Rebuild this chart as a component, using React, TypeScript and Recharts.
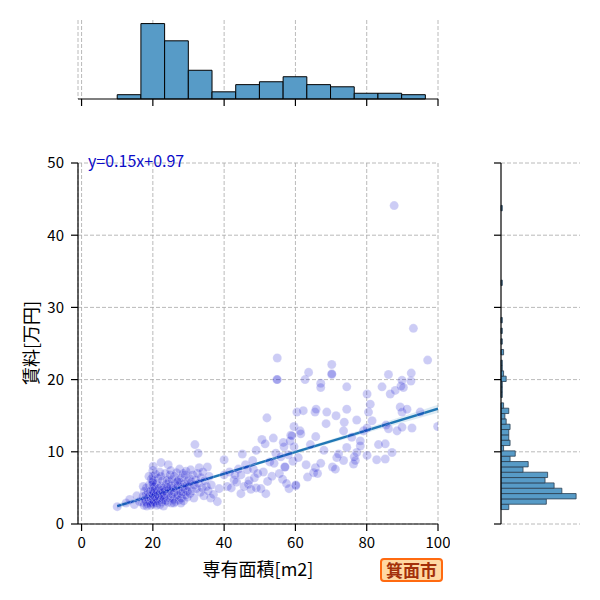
import React from 'react'
import { ComposedChart, Scatter, Line, Area, XAxis, YAxis, CartesianGrid, ReferenceArea } from 'recharts'

const areaTicks = [0, 20, 40, 60, 80, 100]
const rentTicks = [0, 10, 20, 30, 40, 50]

// histogram of 専有面積 (top)
const areaBinStart = 10
const areaBinWidth = 6.65
const areaCounts = [6, 105, 81, 40, 10, 20, 24, 31, 20, 17, 8, 8, 6]

// histogram of 賃料 (right)
const rentBinStart = 2.0
const rentBinWidth = 0.739
const rentCounts = [
  6, 35, 58, 47, 41, 34, 36, 17, 21, 7, 11, 2, 7, 6, 6, 7, 4, 3, 6, 2,
  0, 1, 1, 1, 4, 2, 1, 1, 0, 2, 0, 1, 0, 1, 0, 1, 0, 0, 0, 0,
  0, 0, 1, 0, 0, 0, 0, 0, 0, 0, 0, 0, 0, 0, 0, 0, 1,
]

// regression y = 0.15x + 0.97
const fitSlope = 0.15
const fitIntercept = 0.97
const bandX = [10, 32.5, 55, 77.5, 100]
const bandHalfWidth = [0.35, 0.2, 0.2, 0.3, 0.55]

// [専有面積, 賃料]
const pointsUnder23: [number, number][] = [
  [10.0, 2.4], [12.5, 2.9], [13.5, 3.4], [14.8, 2.7], [15.5, 3.9], [16.2, 3.1],
  [17.0, 3.0], [17.2, 3.8], [17.5, 2.6], [17.6, 4.5], [17.8, 3.4], [18.0, 3.1], [18.0, 4.0],
  [18.2, 5.0], [18.4, 2.8], [18.5, 3.6], [18.6, 4.4], [18.8, 3.2], [19.0, 3.9], [19.0, 5.4],
  [19.2, 2.9], [19.3, 4.6], [19.5, 3.5], [19.6, 6.2], [19.7, 4.2], [19.8, 3.0], [20.0, 3.3],
  [20.0, 3.7], [20.0, 4.1], [20.0, 4.6], [20.0, 5.1], [20.0, 5.6], [20.0, 6.0], [20.0, 6.6],
  [20.0, 7.4], [20.0, 2.8], [20.2, 4.4], [20.3, 3.1], [20.4, 5.2], [20.5, 3.8], [20.6, 4.8],
  [20.8, 2.9], [20.9, 4.1], [21.0, 3.5], [21.0, 5.6], [21.2, 4.6], [21.3, 3.2], [21.5, 4.0],
  [21.5, 6.3], [21.7, 3.6], [21.8, 5.0], [22.0, 2.7], [22.0, 4.3], [22.1, 3.4], [22.3, 5.3],
  [22.3, 8.5], [22.4, 4.7], [22.5, 3.0], [22.6, 3.9], [22.7, 6.0], [22.8, 4.4], [22.9, 3.3],
  [23.0, 5.0], [23.0, 2.5], [23.1, 4.0], [23.2, 3.6], [18.3, 2.5], [19.4, 2.6], [21.1, 2.6],
  [20.7, 6.9], [19.9, 5.8], [21.9, 7.2], [18.9, 6.6], [17.3, 5.2], [22.2, 6.6], [20.1, 8.0],
]

const points23to37: [number, number][] = [
  [23.4, 4.6], [23.5, 7.0], [23.6, 3.2], [23.8, 5.5], [24.0, 4.2], [24.0, 6.1], [24.2, 3.0],
  [24.3, 8.2], [24.5, 4.8], [24.5, 5.9], [24.7, 3.6], [24.8, 6.8], [25.0, 3.8], [25.0, 4.6],
  [25.0, 5.3], [25.0, 7.4], [25.2, 2.9], [25.3, 6.2], [25.5, 4.1], [25.6, 5.0], [25.8, 3.4],
  [26.0, 4.4], [26.0, 6.6], [26.2, 5.6], [26.3, 3.1], [26.5, 4.9], [26.6, 7.1], [26.8, 3.8],
  [27.0, 5.3], [27.0, 4.0], [27.2, 6.1], [27.3, 3.3], [27.5, 4.6], [27.5, 7.6], [27.7, 5.8],
  [27.8, 4.2], [28.0, 3.6], [28.0, 6.4], [28.2, 5.1], [28.4, 4.4], [28.5, 7.0], [28.6, 3.2],
  [28.8, 5.6], [29.0, 4.8], [29.0, 6.8], [29.2, 4.0], [29.3, 7.3], [29.5, 5.3], [29.6, 3.7],
  [29.8, 6.0], [24.1, 5.1], [26.9, 5.9], [25.9, 2.9], [27.9, 2.9], [29.7, 4.5],
  [30.0, 5.2], [30.2, 6.3], [30.4, 4.2], [30.6, 7.5], [30.8, 5.8], [31.0, 4.6], [31.2, 6.8],
  [31.5, 3.6], [31.6, 5.4], [31.8, 11.0], [32.0, 6.1], [32.2, 4.9], [32.5, 7.0], [32.7, 9.8],
  [32.8, 5.6], [33.0, 7.8], [33.3, 4.4], [33.5, 6.4], [33.8, 5.0], [34.0, 7.2], [34.3, 3.9],
  [34.5, 6.0], [35.0, 5.2], [35.3, 7.9], [35.5, 4.6], [35.8, 6.6], [36.2, 3.6], [36.4, 5.4],
]

const points37to63: [number, number][] = [
  [37.0, 4.1], [38.1, 3.1], [38.6, 4.9], [40.0, 8.9], [40.0, 6.8], [40.9, 5.2], [41.5, 7.2],
  [42.8, 6.1], [42.0, 5.0], [43.0, 6.8], [43.5, 5.8], [44.0, 7.6], [44.7, 4.2], [44.7, 6.8],
  [45.1, 9.7], [45.6, 5.2], [46.0, 8.2], [46.5, 7.5], [46.8, 5.5], [47.0, 6.0], [47.5, 4.8],
  [48.0, 8.8], [48.2, 7.6], [48.5, 6.4], [49.0, 10.2], [49.0, 5.0], [49.4, 7.0],
  [50.3, 4.9], [50.6, 11.7], [51.0, 7.2], [51.5, 11.1], [51.7, 4.2], [52.0, 14.7], [52.2, 5.9],
  [52.8, 8.6], [53.4, 6.6], [53.8, 11.9], [54.0, 8.4], [54.5, 9.8], [54.8, 20.0], [54.9, 20.0],
  [54.9, 23.0], [55.5, 7.0], [55.9, 9.3], [56.4, 6.2],
  [56.6, 11.3], [56.8, 10.7], [57.0, 7.9], [57.1, 7.9], [57.5, 5.6], [58.0, 9.6], [58.2, 4.9],
  [58.5, 11.5], [58.7, 12.3], [59.0, 12.2], [59.3, 8.7], [59.6, 13.5], [59.6, 10.7], [60.1, 5.3],
  [60.1, 5.4], [60.4, 15.5], [60.8, 9.2], [61.3, 12.9], [61.5, 12.5], [62.2, 15.7], [62.7, 20.0],
  [63.0, 8.2],
]

const points63to100: [number, number][] = [
  [63.4, 6.5], [63.7, 21.0], [64.2, 11.0], [65.1, 7.1], [65.5, 15.5], [65.6, 7.8], [65.7, 12.1],
  [65.8, 15.9], [66.2, 7.0], [67.1, 19.5], [67.1, 18.9], [67.1, 8.4], [68.0, 10.2], [68.6, 13.9],
  [68.8, 15.5], [70.2, 20.7], [70.2, 20.8], [70.2, 22.1], [70.4, 7.9], [71.2, 7.6], [71.4, 15.0],
  [71.6, 9.2], [72.1, 9.7], [73.5, 12.9], [73.5, 8.8], [73.7, 14.1], [74.4, 19.0], [74.4, 10.6],
  [74.4, 15.9], [75.8, 12.0], [76.3, 8.3], [76.5, 9.3], [76.8, 8.8], [77.2, 14.4], [77.2, 9.9],
  [78.2, 10.8], [78.2, 11.5], [79.1, 12.9], [80.1, 18.0], [80.1, 13.3], [80.1, 9.5], [80.5, 15.5],
  [81.0, 16.6], [81.5, 14.3], [82.8, 8.9], [83.3, 11.0], [84.3, 19.0], [85.2, 11.1], [85.2, 9.0],
  [85.4, 13.7], [86.1, 20.7], [86.1, 13.2], [86.6, 18.0], [87.1, 9.9], [87.7, 44.1], [88.0, 18.5],
  [88.5, 12.9], [89.4, 16.2], [89.6, 19.1], [89.9, 19.9], [89.9, 15.5], [89.9, 13.4], [90.3, 18.9],
  [91.3, 15.9], [92.4, 19.8], [92.5, 20.9], [92.7, 13.3], [93.1, 27.1], [95.0, 15.5], [97.1, 22.7],
  [99.9, 13.5],
]

const FONT = "'Noto Sans CJK JP', 'Noto Sans', sans-serif"
const GRID = '#a8a8a8'
const DASH = '4 2'
const HIST_FILL = '#579bc7'

const scatterData = [...pointsUnder23, ...points23to37, ...points37to63, ...points63to100].map(([x, y]) => ({ x, y }))

const fitData = bandX.map((x, i) => {
  const y = fitIntercept + fitSlope * x
  return { x, y, band: [y - bandHalfWidth[i], y + bandHalfWidth[i]] }
})

const axisLine = { stroke: '#000', strokeWidth: 1.2 }
const tickStyle = { fill: '#000', fontSize: 15, fontFamily: FONT }
const noLabel = () => ''

export default function App() {
  return (
    <div style={{ position: 'absolute', left: 0, top: 0, width: 600, height: 600, background: '#fff', fontFamily: FONT }}>
      {/* top: area histogram */}
      <div style={{ position: 'absolute', left: 0, top: 0 }}>
        <ComposedChart width={450} height={120} margin={{ top: 20, right: 12, bottom: 1, left: 78 }} data={scatterData}>
          <CartesianGrid horizontal={false} stroke={GRID} strokeDasharray={DASH} strokeWidth={0.8} />
          <XAxis type="number" dataKey="x" domain={[-1, 100]} ticks={areaTicks} allowDataOverflow
            height={20} tickSize={7} tickFormatter={noLabel} axisLine={axisLine} tickLine={axisLine} />
          <YAxis type="number" dataKey="y" domain={[0, 110]} allowDataOverflow hide />
          {areaCounts.map((c, i) => (
            <ReferenceArea key={i} x1={areaBinStart + i * areaBinWidth} x2={areaBinStart + (i + 1) * areaBinWidth}
              y1={0} y2={c} fill={HIST_FILL} fillOpacity={1} stroke="#000" strokeWidth={1} ifOverflow="visible" />
          ))}
        </ComposedChart>
      </div>

      {/* main scatter */}
      <div style={{ position: 'absolute', left: 0, top: 0 }}>
        <ComposedChart width={450} height={600} margin={{ top: 163, right: 12, bottom: 46, left: 38 }}>
          <CartesianGrid stroke={GRID} strokeDasharray={DASH} strokeWidth={0.8} />
          <XAxis type="number" dataKey="x" domain={[-1, 100]} ticks={areaTicks} allowDataOverflow
            height={30} tickSize={7} tickMargin={6} axisLine={axisLine} tickLine={axisLine} tick={tickStyle} />
          <YAxis type="number" dataKey="y" domain={[0, 50]} ticks={rentTicks} allowDataOverflow
            width={40} tickSize={7} tickMargin={7} axisLine={axisLine} tickLine={axisLine} tick={tickStyle} />
          <Area data={fitData} dataKey="band" type="linear" stroke="none" fill="#1f77b4" fillOpacity={0.15}
            isAnimationActive={false} />
          <Scatter data={scatterData} fill="#0000cd" fillOpacity={0.2} stroke="#fff" strokeOpacity={0.25}
            strokeWidth={0.8} isAnimationActive={false} />
          <Line data={fitData} dataKey="y" type="linear" stroke="#1f77b4" strokeWidth={2.4} dot={false}
            isAnimationActive={false} />
        </ComposedChart>
      </div>

      {/* right: rent histogram */}
      <div style={{ position: 'absolute', left: 480, top: 0 }}>
        <ComposedChart width={120} height={600} margin={{ top: 163, right: 20, bottom: 76, left: 11 }} data={scatterData}>
          <CartesianGrid vertical={false} stroke={GRID} strokeDasharray={DASH} strokeWidth={0.8} />
          <XAxis type="number" dataKey="x" domain={[0, 61]} allowDataOverflow hide />
          <YAxis type="number" dataKey="y" domain={[0, 50]} ticks={rentTicks} allowDataOverflow
            width={10} tickSize={7} tickFormatter={noLabel} axisLine={axisLine} tickLine={axisLine} />
          {rentCounts.map((c, i) => c > 0 && (
            <ReferenceArea key={i} x1={0} x2={c} y1={rentBinStart + i * rentBinWidth}
              y2={rentBinStart + (i + 1) * rentBinWidth} fill={HIST_FILL} fillOpacity={1}
              stroke="#2b3f52" strokeWidth={0.8} ifOverflow="visible" />
          ))}
        </ComposedChart>
      </div>

      <div style={{ position: 'absolute', left: 88, top: 150, fontSize: 16, lineHeight: '20px', color: '#0c0cc8' }}>
        y=0.15x+0.97
      </div>
      <div style={{ position: 'absolute', left: 0, width: 516, top: 556, textAlign: 'center', fontSize: 18, lineHeight: '24px', color: '#000' }}>
        専有面積[m2]
      </div>
      <div style={{ position: 'absolute', left: 30, top: 343, transform: 'translate(-50%, -50%) rotate(-90deg)', whiteSpace: 'nowrap', fontSize: 18, lineHeight: '24px', color: '#000' }}>
        賃料[万円]
      </div>
      <div style={{ position: 'absolute', left: 380, top: 558, width: 59, height: 20, border: '2px solid #ff6a10', borderRadius: 4, background: '#ffd8a2', color: '#a3300a', fontWeight: 'bold', fontSize: 17, lineHeight: '20px', textAlign: 'center' }}>
        箕面市
      </div>
    </div>
  )
}
